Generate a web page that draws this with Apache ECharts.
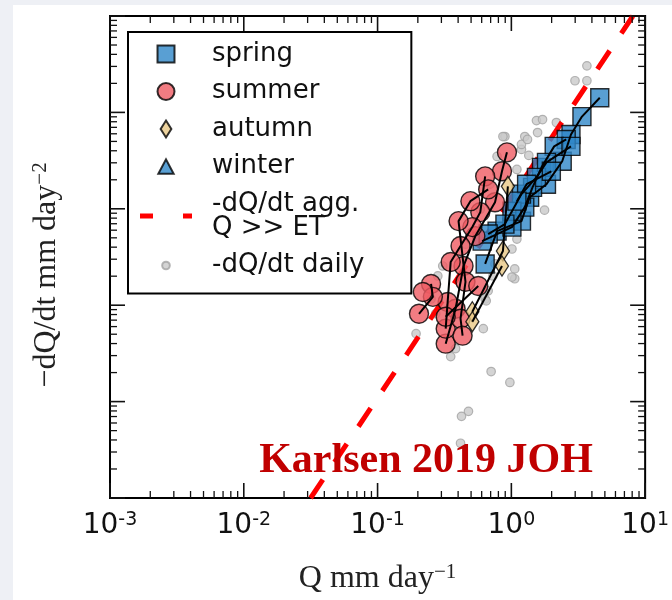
<!DOCTYPE html>
<html><head><meta charset="utf-8">
<script src="https://cdn.jsdelivr.net/npm/echarts@6/dist/echarts.min.js"></script>
<style>html,body{margin:0;padding:0;background:#eef0f5}#c{width:672px;height:600px}</style>
</head><body><div id="c"></div>
<script>
// Q (mm day^-1) vs -dQ/dt (mm day^-2), log-log
const xRange = [1e-3, 10];
const yRange = [1e-4, 10];
const xTickExponents = ['-3', '-2', '-1', '0', '1'];

// binned recession curves (each track = one connected line)
const springTracks = [
  [[4.58,1.42],[3.37,0.905],[2.79,0.590],[2.40,0.311],[1.83,0.180],[1.37,0.132],[1.19,0.0745],[0.782,0.0587],[0.637,0.0268]],
  [[2.57,0.524],[2.09,0.444],[1.68,0.269],[1.44,0.167],[1.26,0.104],[1.01,0.0646],[0.605,0.0462]],
  [[2.79,0.444],[1.83,0.303],[1.54,0.212],[1.19,0.142],[1.01,0.0944],[0.895,0.0694],[0.671,0.0547]],
  [[1.99,0.245],[1.30,0.180],[1.10,0.120]]
];
const summerTracks = [
  [[0.927,0.385],[0.851,0.245],[0.755,0.117],[0.538,0.0521],[0.439,0.0255],[0.383,0.00918],[0.323,0.00399]],
  [[0.637,0.217],[0.586,0.0923],[0.511,0.0646],[0.417,0.0411],[0.352,0.0281],[0.334,0.0108],[0.323,0.00571]],
  [[0.671,0.159],[0.494,0.120],[0.403,0.0745],[0.454,0.0175],[0.417,0.00724],[0.432,0.00483]],
  [[0.251,0.0166],[0.259,0.0122],[0.204,0.00815]],
  [[0.566,0.0158],[0.323,0.00759]],
  [[0.218,0.0137]]
];
const autumnTracks = [
  [[0.942,0.171],[0.865,0.0365],[0.511,0.00855]],
  [[0.851,0.0255],[0.511,0.00675]]
];
const winterTracks = [];
const dailyPoints = [
  [3.67,3.04],[2.99,2.13],[3.67,2.13],[1.54,0.822],[1.71,0.843],[2.17,0.785],[0.895,0.562],[1.26,0.562],
  [1.57,0.618],[1.19,0.413],[1.35,0.358],[1.77,0.0968],[1.01,0.0383],[1.06,0.0238],[1.06,0.0188],[0.307,0.0255],
  [0.282,0.0201],[0.729,0.0201],[0.671,0.0141],[0.637,0.0116],[1.01,0.0196],[0.617,0.00571],[0.649,0.0111],
  [0.194,0.00507],[0.352,0.00293],[0.706,0.00205],[0.975,0.00158],[0.478,0.000792],[0.424,0.000703],[0.417,0.000370],
  [0.865,0.562],[1.19,0.465],[1.32,0.524],[0.782,0.349],[1.10,0.256],[1.49,0.142],[0.693,0.180],[0.586,0.099],
  [0.454,0.043],[0.251,0.0116],[0.272,0.00815],[0.755,0.0268],[1.10,0.0485],[0.383,0.00355]
];
const aggLine = [[0.0316,1e-4],[8.1,10]];
const aggName = '-dQ/dt agg.\nQ >> ET';

// tick positions (log decades and 2..9 minors)
const xMajor = [], xMinor = [], yMajor = [], yMinor = [];
for (let e = -3; e <= 1; e++) xMajor.push(Math.pow(10, e));
for (let e = -3; e <= 0; e++) for (let m = 2; m <= 9; m++) xMinor.push(m * Math.pow(10, e));
for (let e = -4; e <= 1; e++) yMajor.push(Math.pow(10, e));
for (let e = -4; e <= 0; e++) for (let m = 2; m <= 9; m++) yMinor.push(m * Math.pow(10, e));

function tickSeries(axis, values, len, lw) {
  return {
    type: 'custom', silent: true, clip: false, z: 10,
    data: values.map(v => axis === 'x' ? [v, yRange[0]] : [xRange[0], v]),
    renderItem(params, api) {
      const cs = params.coordSys;
      const p = api.coord([api.value(0), api.value(1)]);
      const st = { stroke: '#111', lineWidth: lw };
      if (axis === 'x') {
        return { type: 'group', children: [
          { type: 'line', shape: { x1: p[0], y1: cs.y + cs.height, x2: p[0], y2: cs.y + cs.height - len }, style: st },
          { type: 'line', shape: { x1: p[0], y1: cs.y, x2: p[0], y2: cs.y + len }, style: st }
        ]};
      }
      return { type: 'group', children: [
        { type: 'line', shape: { x1: cs.x, y1: p[1], x2: cs.x + len, y2: p[1] }, style: st },
        { type: 'line', shape: { x1: cs.x + cs.width, y1: p[1], x2: cs.x + cs.width - len, y2: p[1] }, style: st }
      ]};
    }
  };
}

const flat = tr => tr.reduce((a, t) => a.concat(t), []);
const border = { borderColor: '#000', borderWidth: 1.4 };
const diamondPath = 'path://M6,0L12,9.5L6,19L0,9.5Z';
const squareIcon = 'path://M0,0L10,0L10,10L0,10Z';
const triangleIcon = 'path://M0,0M20,20M1,18.5L10,1.5L19,18.5Z';
const dotIcon = 'path://M0,0M20,20M5.5,10A4.5,4.5,0,1,0,14.5,10A4.5,4.5,0,1,0,5.5,10Z';
const dashIcon = 'path://M0,0L13,0L13,5L0,5ZM43,0L52,0L52,5L43,5Z';

const series = [
  { name: '-dQ/dt daily', type: 'scatter', data: dailyPoints, symbol: 'circle', symbolSize: 8.5,
    itemStyle: { color: '#c9c9c9', borderColor: '#a3a3a3', borderWidth: 1.2 }, z: 2 },
  { name: aggName, type: 'line', data: aggLine, symbol: 'none', z: 3,
    itemStyle: { color: '#ff0000' },
    lineStyle: { color: '#ff0000', width: 5, type: [22, 21] } },
  { name: 'spring', type: 'scatter', data: flat(springTracks), symbol: 'rect', symbolSize: 18,
    itemStyle: Object.assign({ color: '#2f87c8' }, border), z: 4 },
  { name: 'summer', type: 'scatter', data: flat(summerTracks), symbol: 'circle', symbolSize: 19,
    itemStyle: Object.assign({ color: '#ef5b63' }, border), z: 4 },
  { name: 'autumn', type: 'scatter', data: flat(autumnTracks), symbol: diamondPath, symbolSize: [13, 20],
    itemStyle: Object.assign({ color: '#e9c886' }, border), z: 4 },
  { name: 'winter', type: 'scatter', data: flat(winterTracks), symbol: 'triangle', symbolSize: 16,
    itemStyle: Object.assign({ color: '#2f87c8' }, border), z: 4 }
];
[springTracks, summerTracks, autumnTracks, winterTracks].forEach((tracks, i) => {
  tracks.forEach((t, j) => {
    if (t.length > 1) series.push({ name: 'track' + i + '_' + j, type: 'line', data: t, symbol: 'none', z: 5,
      lineStyle: { color: '#000', width: 2 } });
  });
});
series.push(tickSeries('x', xMajor, 15, 1.6), tickSeries('x', xMinor, 7, 1.3),
            tickSeries('y', yMajor, 15, 1.6), tickSeries('y', yMinor, 7, 1.3));

const nameRich = {
  n: { fontFamily: 'Liberation Serif', fontSize: 32, lineHeight: 34, color: '#222' },
  s: { fontFamily: 'Liberation Serif', fontSize: 21, lineHeight: 21, verticalAlign: 'top', color: '#222' }
};

const chart = echarts.init(document.getElementById('c'), null, { renderer: 'canvas' });
chart.setOption({
  backgroundColor: '#eef0f5',
  animation: false,
  graphic: [
    { type: 'rect', z: -100, silent: true, shape: { x: 13, y: 5, width: 672, height: 600 }, style: { fill: '#ffffff' } },
    { type: 'text', z: 100, silent: true, x: 426, y: 461,
      style: { text: 'Karlsen 2019 JOH', fill: '#c00000', font: 'bold 42px "Liberation Serif"', textAlign: 'center', textVerticalAlign: 'middle' } }
  ],
  grid: { left: 110, top: 16, right: 20, bottom: 100, show: true, borderColor: '#000', borderWidth: 2, backgroundColor: '#fff' },
  legend: {
    orient: 'vertical', left: 128, top: 32, selectedMode: false,
    padding: [9, 47, 15, 12], itemGap: 11.5, itemWidth: 52, itemHeight: 17,
    borderColor: '#000', borderWidth: 2, backgroundColor: '#fff', symbolKeepAspect: true,
    textStyle: { fontFamily: 'DejaVu Sans', fontSize: 26, lineHeight: 24, color: '#111', padding: [0, 0, 0, 15] },
    data: [
      { name: 'spring', icon: squareIcon },
      { name: 'summer', icon: 'circle' },
      { name: 'autumn', icon: diamondPath },
      { name: 'winter', icon: triangleIcon },
      { name: aggName, icon: dashIcon },
      { name: '-dQ/dt daily', icon: dotIcon }
    ]
  },
  xAxis: {
    type: 'log', logBase: 10, min: xRange[0], max: xRange[1],
    axisLine: { show: false }, axisTick: { show: false }, splitLine: { show: false },
    axisLabel: {
      margin: 13, showMinLabel: true, showMaxLabel: true,
      formatter: v => '{b|10}{s|' + xTickExponents[Math.round(Math.log10(v)) + 3] + '}',
      rich: {
        b: { fontFamily: 'DejaVu Sans', fontSize: 28, lineHeight: 30, color: '#111' },
        s: { fontFamily: 'DejaVu Sans', fontSize: 19, lineHeight: 19, verticalAlign: 'top', color: '#111' }
      }
    },
    name: '{n|Q mm day}{s|\u22121}', nameLocation: 'middle', nameGap: 64,
    nameTextStyle: { rich: nameRich }
  },
  yAxis: {
    type: 'log', logBase: 10, min: yRange[0], max: yRange[1],
    axisLine: { show: false }, axisTick: { show: false }, splitLine: { show: false }, axisLabel: { show: false },
    name: '{n|\u2212dQ/dt mm day}{s|\u22122}', nameLocation: 'middle', nameRotate: 90, nameGap: 46,
    nameTextStyle: { padding: [0, 36, 0, 0], rich: nameRich }
  },
  series: series
});
</script></body></html>
